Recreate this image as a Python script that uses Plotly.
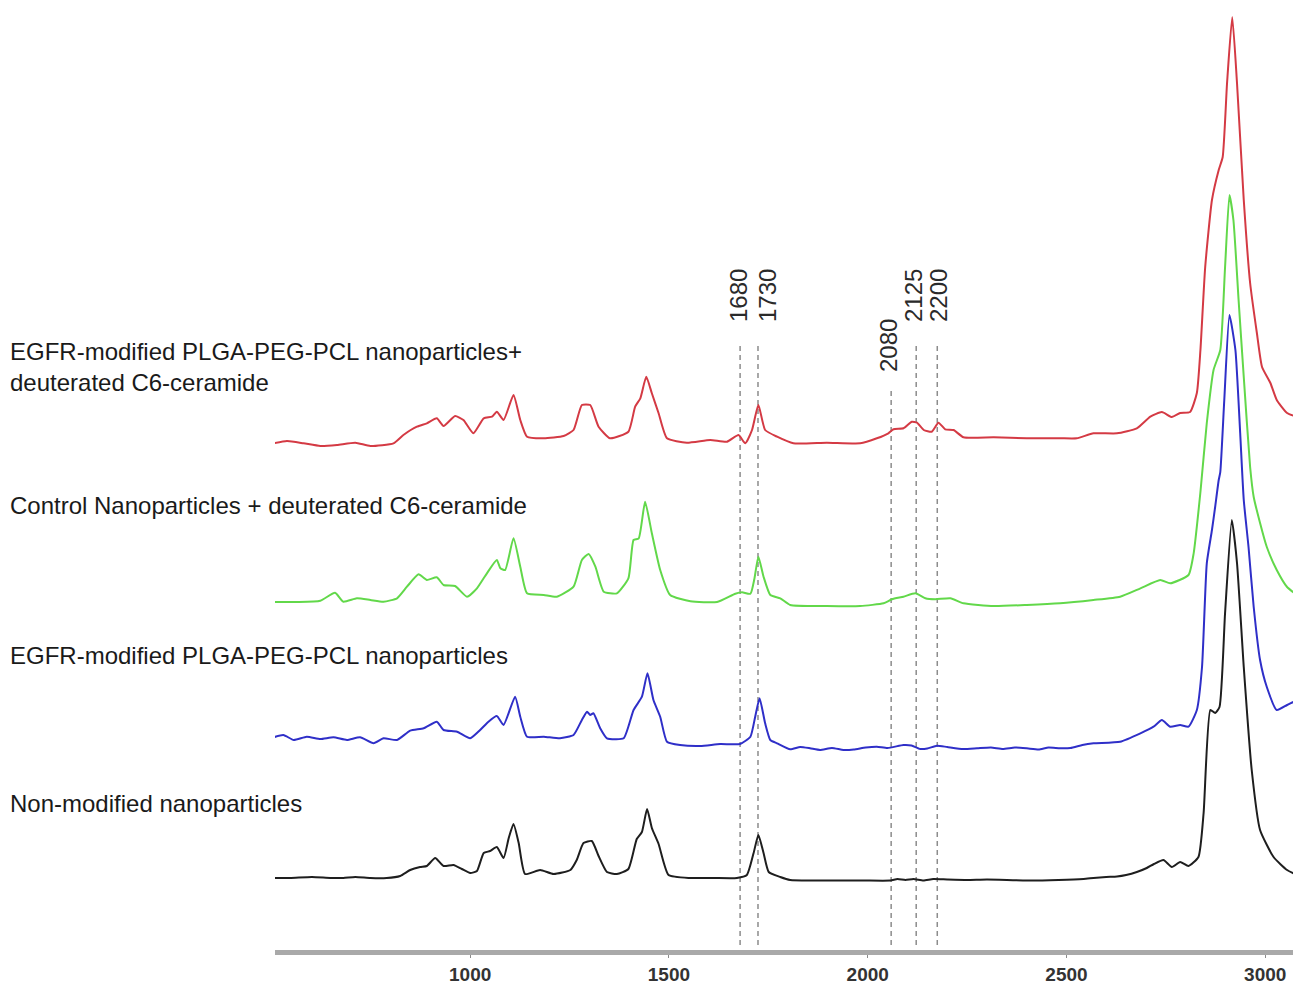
import plotly.graph_objects as go

# ---------------- data (Raman shift, cm-1 ; relative intensity) ----------------
black_wn = [497, 547, 602, 648, 681, 711, 749, 790, 824, 849, 874, 891, 912, 933, 958, 979, 1000, 1017,
            1034, 1050, 1067, 1084, 1097, 1109, 1122, 1138, 1176, 1210, 1252, 1268, 1285, 1306, 1323, 1344,
            1369, 1398, 1419, 1432, 1445, 1457, 1474, 1499, 1554, 1612, 1671, 1696, 1713, 1725, 1738, 1751,
            1780, 1805, 1860, 1920, 1990, 2057, 2075, 2095, 2115, 2140, 2165, 2200, 2250, 2300, 2400, 2480,
            2543, 2568, 2600, 2627, 2650, 2677, 2702, 2720, 2744, 2765, 2786, 2807, 2832, 2845, 2862, 2874,
            2885, 2899, 2916, 2929, 2946, 2966, 2987, 3021, 3055, 3090]
black_int = [0, 0, 1, 0, 0, 1, 0, 0, 2, 8, 11, 12, 20, 12, 13, 9, 5, 7,
             25, 27, 31, 20, 40, 54, 35, 4, 8, 4, 8, 18, 35, 37, 22, 6,
             4, 9, 39, 46, 69, 50, 34, 3, 0, 0, 0, 3, 25, 43, 25, 6,
             1, -2, -2.5, -2.5, -2.5, -2.5, -1, -2, -1, -2.5, -1, -1.5, -2, -1.5, -2.5, -2,
             -1, 0, 1, 1.5, 3, 6, 10, 14, 18, 11, 16, 12, 21, 65, 168, 165,
             171, 265, 358, 315, 211, 108, 48, 21, 8, 1]

blue_wn = [497, 530, 556, 589, 623, 656, 690, 723, 757, 782, 816, 849, 883, 916, 933, 967, 1000, 1025,
           1046, 1067, 1084, 1113, 1126, 1143, 1185, 1226, 1260, 1281, 1294, 1302, 1310, 1327, 1344, 1386,
           1411, 1432, 1446, 1461, 1478, 1495, 1528, 1579, 1629, 1679, 1705, 1717, 1728, 1742, 1755, 1772,
           1805, 1830, 1855, 1880, 1910, 1939, 1965, 1995, 2023, 2050, 2090, 2110, 2132, 2150, 2174, 2200,
           2240, 2275, 2310, 2340, 2370, 2400, 2430, 2455, 2484, 2510, 2540, 2568, 2635, 2686, 2719, 2740,
           2761, 2786, 2807, 2828, 2841, 2853, 2866, 2874, 2883, 2887, 2897, 2910, 2925, 2937, 2946, 2958,
           2971, 2987, 3004, 3029, 3055, 3080, 3090]
blue_int = [1.7, 5, 0, 3.3, 1, 2.7, 0, 2.7, -3.3, 1.7, 0, 9.3, 11.7, 18.3, 10, 8.3, 1.7, 10,
            18.3, 24, 15, 43.3, 23.3, 3.3, 3.3, 1.7, 5, 20, 28.3, 25, 26.7, 11.7, 1.7, 1.7,
            30, 43.3, 66.7, 40, 23.3, -1.7, -5, -6, -4, -4, 3.3, 23.3, 41.7, 16.7, 0, -3.3,
            -9.3, -7, -8.3, -10, -8, -10, -9.5, -7.5, -6.7, -8, -5, -5.5, -9, -8.5, -5.7, -7,
            -9, -8.3, -7.5, -9, -7.5, -8.3, -9.5, -7.5, -8.3, -8, -5, -3.3, -1.7, 6.7, 13.3, 20,
            13.3, 15, 13.3, 30, 73, 176.7, 210, 233, 260, 268, 340, 425, 390, 307, 240, 193,
            133, 80, 53, 30, 35, 40, 41.7]

green_wn = [497, 564, 623, 660, 681, 715, 749, 782, 816, 841, 870, 891, 916, 933, 962, 992, 1017, 1042,
            1067, 1076, 1088, 1109, 1126, 1143, 1185, 1218, 1260, 1281, 1298, 1315, 1336, 1369, 1398, 1411,
            1424, 1440, 1457, 1478, 1503, 1554, 1621, 1667, 1684, 1705, 1715, 1725, 1738, 1755, 1780, 1805,
            1897, 1981, 2040, 2061, 2090, 2120, 2145, 2170, 2208, 2241, 2317, 2400, 2484, 2568, 2635, 2686,
            2736, 2761, 2807, 2820, 2837, 2853, 2870, 2887, 2899, 2910, 2920, 2933, 2946, 2962, 2971, 2987,
            3004, 3029, 3055, 3080, 3090]
green_int = [0, 0, 1.3, 9.3, 0.3, 3.7, 2, 0.3, 3.7, 15.3, 27.7, 22, 24.7, 17, 16, 5.3, 13.7, 28.7,
             42, 33.7, 32, 63.7, 35.3, 8.7, 7, 5.3, 15.3, 42, 48, 35.3, 10.3, 8.7, 23.7, 62,
             63.7, 100.3, 68.7, 32, 7, 0.7, 0, 8.3, 9.7, 8.3, 23.3, 45.3, 25.3, 7, 3.7, -3,
             -4, -4, -1.3, 2.7, 5.3, 8.7, 3.7, 2.7, 3.7, -1.3, -4, -3, -1.3, 2, 5.3, 13.7,
             22, 18.7, 27, 48.7, 110, 179, 232, 252, 335, 407, 382, 302, 225, 135, 105, 79,
             55, 32, 15, 7, 5.3]

red_wn = [497, 539, 581, 623, 665, 711, 749, 807, 832, 866, 891, 916, 933, 962, 983, 1008, 1034, 1055,
          1067, 1084, 1109, 1126, 1143, 1185, 1235, 1260, 1281, 1302, 1323, 1352, 1398, 1415, 1428, 1443,
          1457, 1474, 1495, 1545, 1604, 1646, 1675, 1692, 1709, 1725, 1742, 1772, 1813, 1897, 1981, 2023,
          2052, 2065, 2090, 2111, 2124, 2141, 2161, 2178, 2195, 2216, 2241, 2317, 2400, 2484, 2526, 2568,
          2627, 2677, 2711, 2740, 2765, 2786, 2811, 2828, 2837, 2849, 2866, 2883, 2893, 2904, 2917, 2929,
          2946, 2962, 2979, 2992, 3013, 3029, 3055, 3090]
red_int = [-2, 1, -1.3, -4, -3, -0.7, -4, -1.3, 7, 15.3, 18.7, 23.7, 16, 26, 22, 8.7, 23.7, 25.3,
           30.3, 22, 47, 22, 5.3, 3.7, 6, 12, 37, 37, 15.3, 3.7, 10.3, 35.3, 43.7, 65.3,
           48.7, 28.7, 3.7, -0.7, 2, 0.3, 7, -1.3, 12, 37, 12, 5.3, -1.3, -0.7, -1.3, 3.7,
           8.7, 12.7, 13.7, 20.3, 19.3, 12, 10.3, 19.3, 12.7, 12, 4.7, 4.7, 3.7, 3.7, 3.7, 8.7,
           8.7, 13.7, 25.3, 30, 25, 29, 30, 49, 92, 175, 242, 272, 285, 359, 425, 359,
           242, 159, 109, 75, 59, 42, 29, 24]

series_names = ["Non-modified nanoparticles",
                "EGFR-modified PLGA-PEG-PCL nanoparticles",
                "Control Nanoparticles + deuterated C6-ceramide",
                "EGFR-modified PLGA-PEG-PCL nanoparticles+<br>deuterated C6-ceramide"]
series_offsets = [72, 210, 348, 508]   # vertical stacking offsets
series_colors = ["#1e1e1e", "#2f2fc8", "#62d84a", "#d43a44"]

marker_positions = [1679, 1724, 2059, 2122, 2175]
marker_labels = ["1680", "1730", "2080", "2125", "2200"]

tick_vals = [1000, 1500, 2000, 2500, 3000]
tick_text = ["1000", "1500", "2000", "2500", "3000"]

# ---------------- figure ----------------
# the page body has an 8 px margin, so the figure is drawn smaller and everything is
# positioned in page pixels (y value = 950 - page_y)
fig = go.Figure()
all_wn = [black_wn, blue_wn, green_wn, red_wn]
all_int = [black_int, blue_int, green_int, red_int]
for wn, inten, off, col, name in zip(all_wn, all_int, series_offsets, series_colors, series_names):
    fig.add_trace(go.Scatter(x=wn, y=[v + off for v in inten], mode="lines",
                             line=dict(color=col, width=2, shape="spline", smoothing=0.5),
                             name=name, showlegend=False, hoverinfo="skip"))

# dashed reference lines
line_tops = [605, 605, 560, 605, 605]
for pos, top in zip(marker_positions, line_tops):
    fig.add_shape(type="line", xref="x", yref="y", x0=pos, x1=pos, y0=5, y1=top,
                  line=dict(color="#8c8c8c", width=1.5, dash="5px,4px"), layer="below")

# rotated labels above dashed lines
label_px = [738, 767, 888, 913, 938]
label_py = [296, 296, 346, 296, 296]
x0_pix, x1_pix, xmin, xmax = 275, 1301, 509, 3090
for lab, px, py in zip(marker_labels, label_px, label_py):
    fig.add_annotation(x=(px - x0_pix) / (x1_pix - x0_pix), xref="paper", y=950 - py, yref="y",
                       text=lab, textangle=-90, showarrow=False,
                       font=dict(family="Liberation Sans, Arial", size=24, color="#2a2a2a"),
                       xanchor="center", yanchor="middle")

# series names on the left
name_py = [803, 655, 505, 367]
for name, py in zip(series_names, name_py):
    fig.add_annotation(x=(8 - x0_pix) / (x1_pix - x0_pix), xref="paper", y=950 - py, yref="y",
                       text=name, showarrow=False, align="left",
                       font=dict(family="Liberation Sans, Arial", size=24, color="#1a1a1a"),
                       xanchor="left", yanchor="middle")

fig.update_layout(
    width=1293, height=982,
    margin=dict(l=267, r=0, t=0, b=40, pad=0, autoexpand=False),
    paper_bgcolor="white", plot_bgcolor="white",
    showlegend=False,
    xaxis=dict(range=[xmin, xmax], tickmode="array", tickvals=tick_vals, ticktext=tick_text,
               automargin=False,
               showline=True, linecolor="#a9a9a9", linewidth=5, showgrid=False, zeroline=False,
               ticks="outside", ticklen=3, tickcolor="#8a8a8a", tickwidth=1,
               tickfont=dict(family="Liberation Sans Narrow, Liberation Sans, Arial", size=19,
                             color="#333333", weight="bold")),
    yaxis=dict(range=[0, 942], visible=False, showgrid=False, zeroline=False, automargin=False),
)

fig.write_html("out.html")
